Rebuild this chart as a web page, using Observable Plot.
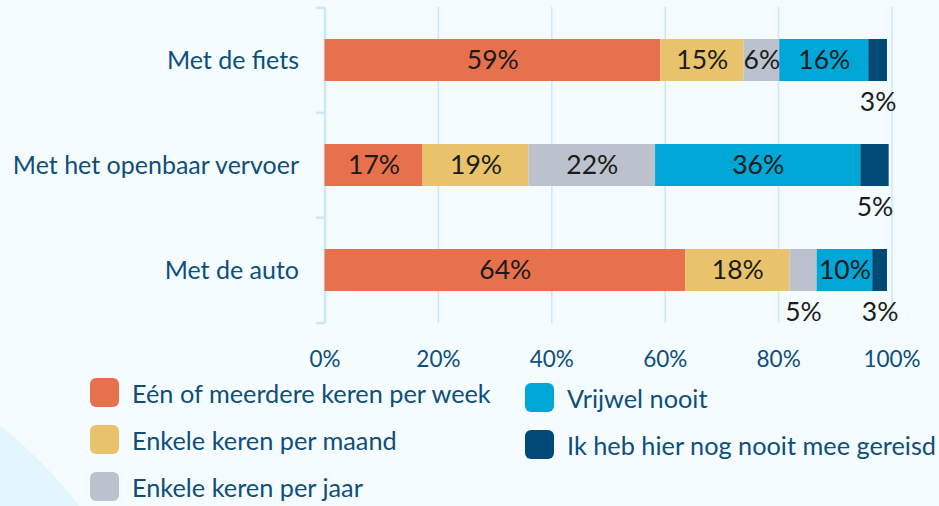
<!DOCTYPE html>
<html>
<head>
<meta charset="utf-8">
<script src="https://cdn.jsdelivr.net/npm/d3@7"></script>
<script src="https://cdn.jsdelivr.net/npm/@observablehq/plot@0.6"></script>
<style>
  html, body { margin: 0; padding: 0; }
  body { width: 939px; height: 506px; background: #f5fcff; overflow: hidden; position: relative; font-family: Lato, "Noto Sans", sans-serif; }
  #bgcircle { position: absolute; left: -780px; top: 320px; width: 960px; height: 960px; border-radius: 50%; background: #e3f6fd; }
  #chart { position: absolute; left: 0; top: 0; }
  #legend { position: absolute; left: 0; top: 370px; width: 939px; height: 136px; }
  .col { position: absolute; display: flex; flex-direction: column; gap: 18px; }
  .item { display: flex; align-items: center; height: 29px; white-space: nowrap; }
  .sw { width: 29px; height: 29px; border-radius: 6px; flex: none; }
  .lab { margin-left: 13px; font-size: 25.3px; color: #0d4f7a; }
</style>
</head>
<body>
<div id="bgcircle"></div>
<div id="chart"></div>
<div id="legend"></div>
<script>
const categories = ["Met de fiets", "Met het openbaar vervoer", "Met de auto"];
const series = ["Eén of meerdere keren per week", "Enkele keren per maand", "Enkele keren per jaar", "Vrijwel nooit", "Ik heb hier nog nooit mee gereisd"];
const colors = ["#e8714d", "#e8c36b", "#bcc2cd", "#00a7d6", "#004a75"];
const fiets = [59.2, 14.7, 6.3, 15.7, 3.3];
const openbaarVervoer = [17.3, 18.7, 22.3, 36.2, 5.0];
const auto = [63.6, 18.4, 4.8, 9.8, 2.6];
const xTicks = [0, 20, 40, 60, 80, 100];

const rows = [fiets, openbaarVervoer, auto];
const data = [];
categories.forEach((cat, i) => {
  series.forEach((s, j) => {
    data.push({cat, series: s, value: rows[i][j], label: Math.round(rows[i][j]) + "%"});
  });
});

const H = 370, mT = 7, mB = 47;
const step = (H - mT - mB) / categories.length;
const textColor = "#0d4f7a";
const gridColor = "#cbe8fa";

const chart = Plot.plot({
  width: 939,
  height: H,
  marginLeft: 324.5,
  marginRight: 47.5,
  marginTop: mT,
  marginBottom: mB,
  style: {background: "transparent", fontFamily: "Lato, 'Noto Sans', sans-serif", overflow: "visible"},
  x: {domain: [0, 100], label: null},
  y: {domain: categories, paddingInner: 0.6, paddingOuter: 0.3, label: null},
  color: {domain: series, range: colors},
  marks: [
    Plot.ruleX(xTicks, {stroke: gridColor, strokeWidth: 1.5}),
    Plot.ruleX([0], {stroke: gridColor, strokeWidth: 2.5}),
    Plot.ruleY(categories, {x1: -1.45, x2: 0, dy: -step / 2, stroke: gridColor, strokeWidth: 2.5, clip: false}),
    Plot.ruleY([categories[categories.length - 1]], {x1: -1.45, x2: 0, dy: step / 2, stroke: gridColor, strokeWidth: 2.5, clip: false}),
    Plot.barX(data, Plot.stackX({x: "value", y: "cat", fill: "series"})),
    Plot.text(data, Plot.stackX({x: "value", y: "cat", text: d => d.value >= 5.5 ? d.label : "", fontSize: 26.5, fill: "#1b1b1b"})),
    Plot.text(data, Plot.stackX({x: "value", y: "cat", text: d => d.value < 5.5 ? d.label : "", fontSize: 26.5, fill: "#1b1b1b", dy: 42})),
    Plot.axisX(xTicks, {tickSize: 0, tickPadding: 28, fontSize: 22.5, color: textColor, tickFormat: d => d + "%", label: null}),
    Plot.axisY({tickSize: 0, tickPadding: 26, fontSize: 25, color: textColor, label: null})
  ]
});
document.getElementById("chart").appendChild(chart);

// Legend
const legend = document.getElementById("legend");
const columns = [
  {left: 90, top: 8, items: [0, 1, 2]},
  {left: 525, top: 13, items: [3, 4]}
];
columns.forEach(c => {
  const col = document.createElement("div");
  col.className = "col";
  col.style.left = c.left + "px";
  col.style.top = c.top + "px";
  c.items.forEach(k => {
    const it = document.createElement("div");
    it.className = "item";
    const sw = document.createElement("div");
    sw.className = "sw";
    sw.style.background = colors[k];
    const lab = document.createElement("span");
    lab.className = "lab";
    lab.textContent = series[k];
    it.appendChild(sw);
    it.appendChild(lab);
    col.appendChild(it);
  });
  legend.appendChild(col);
});
</script>
</body>
</html>
